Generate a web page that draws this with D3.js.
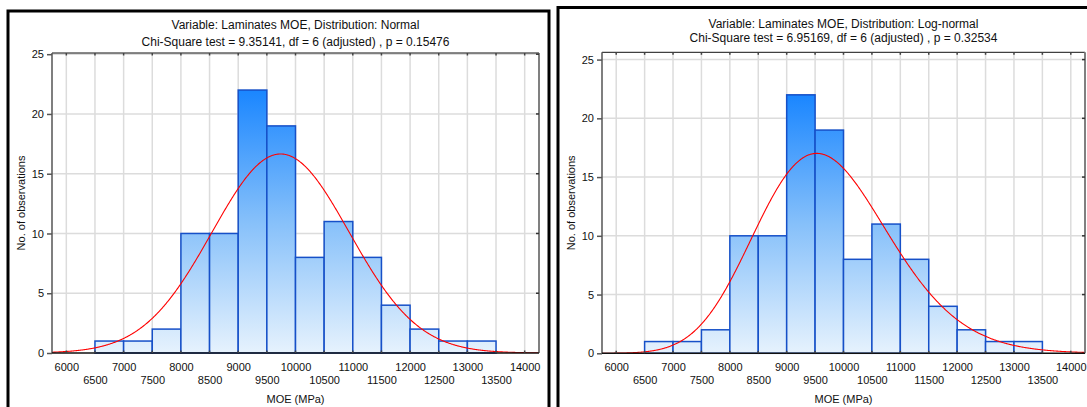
<!DOCTYPE html>
<html>
<head>
<meta charset="utf-8">
<script src="https://cdn.jsdelivr.net/npm/d3@7"></script>
<style>
  html, body { margin: 0; padding: 0; background: #fff; }
  svg { display: block; }
  text { font-family: "Liberation Sans", Arial, sans-serif; fill: #111; }
</style>
</head>
<body>
<svg id="chart" width="1087" height="407"></svg>
<script>
// Histogram of laminate MOE (MPa), 500 MPa class width
const binStarts = [6500, 7000, 7500, 8000, 8500, 9000, 9500, 10000, 10500, 11000, 11500, 12000, 12500, 13000];
const counts    = [1, 1, 2, 10, 10, 22, 19, 8, 11, 8, 4, 2, 1, 1];
const binWidth = 500;

// Axis ticks
const xTicksUpper = [6000, 7000, 8000, 9000, 10000, 11000, 12000, 13000, 14000];
const xTicksLower = [6500, 7500, 8500, 9500, 10500, 11500, 12500, 13500];
const yTicks = [0, 5, 10, 15, 20, 25];

// Fitted distributions
const normalFit = [9740, 1198];        // mean, standard deviation
const lognormalFit = [9.1771, 0.1221]; // mu, sigma of ln(MOE)

const titlesNormal = ["Variable: Laminates MOE, Distribution: Normal",
                      "Chi-Square test = 9.35141, df = 6 (adjusted) , p = 0.15476"];
const titlesLognormal = ["Variable: Laminates MOE, Distribution: Log-normal",
                         "Chi-Square test = 6.95169, df = 6 (adjusted) , p = 0.32534"];

const xLabel = "MOE (MPa)";
const yLabel = "No. of observations";

const N = d3.sum(counts);
const svg = d3.select("#chart");

function normalPdf(x, m, s) {
  const z = (x - m) / s;
  return Math.exp(-0.5 * z * z) / (s * Math.sqrt(2 * Math.PI));
}
function lognormalPdf(x, mu, s) {
  const z = (Math.log(x) - mu) / s;
  return Math.exp(-0.5 * z * z) / (x * s * Math.sqrt(2 * Math.PI));
}

function drawPanel(cfg) {
  const g = svg.append("g");
  const x = d3.scaleLinear().domain([5750, 14250]).range([cfg.left, cfg.right]);
  const y = d3.scaleLinear().domain([0, cfg.yMax]).range([cfg.bottom, cfg.top]);

  // outer frame
  g.append("path")
    .attr("d", cfg.framePath)
    .attr("fill", "none").attr("stroke", "#000").attr("stroke-width", 3);

  const clipId = "clip" + cfg.id;
  g.append("clipPath").attr("id", clipId)
    .append("rect").attr("x", cfg.left).attr("y", cfg.top)
    .attr("width", cfg.right - cfg.left).attr("height", cfg.bottom - cfg.top);

  // grid
  const xGrid = d3.range(6000, 14001, 500);
  g.append("g").selectAll("line").data(xGrid).join("line")
    .attr("x1", d => x(d)).attr("x2", d => x(d))
    .attr("y1", cfg.top).attr("y2", cfg.bottom)
    .attr("stroke", "#dcdcdc").attr("stroke-width", 1.5);
  g.append("g").selectAll("line").data(yTicks.slice(1)).join("line")
    .attr("x1", cfg.left).attr("x2", cfg.right)
    .attr("y1", d => y(d)).attr("y2", d => y(d))
    .attr("stroke", "#dcdcdc").attr("stroke-width", 1.5);

  // bar fill gradient follows the plot height
  const gradId = "grad" + cfg.id;
  const grad = g.append("linearGradient").attr("id", gradId)
    .attr("gradientUnits", "userSpaceOnUse")
    .attr("x1", 0).attr("x2", 0).attr("y1", y(22)).attr("y2", y(0));
  grad.append("stop").attr("offset", "0%").attr("stop-color", "#1a86ff");
  grad.append("stop").attr("offset", "50%").attr("stop-color", "#86c0fa");
  grad.append("stop").attr("offset", "100%").attr("stop-color", "#e6f2fd");

  g.append("g").selectAll("rect").data(binStarts).join("rect")
    .attr("x", d => x(d))
    .attr("y", (d, i) => y(counts[i]))
    .attr("width", d => x(d + binWidth) - x(d))
    .attr("height", (d, i) => y(0) - y(counts[i]))
    .attr("fill", `url(#${gradId})`)
    .attr("stroke", "#1650c8").attr("stroke-width", 1.5);

  // fitted curve, expected count per class
  const pts = d3.range(5750, 14251, 10).map(v => [v, N * binWidth * cfg.pdf(v)]);
  g.append("path")
    .attr("clip-path", `url(#${clipId})`)
    .attr("d", d3.line().x(d => x(d[0])).y(d => y(d[1]))(pts))
    .attr("fill", "none").attr("stroke", "#ff0000").attr("stroke-width", 1.1);

  // plot frame
  g.append("line").attr("x1", cfg.left).attr("x2", cfg.right)
    .attr("y1", cfg.top).attr("y2", cfg.top).attr("stroke", "#111").attr("stroke-width", 1);
  g.append("line").attr("x1", cfg.right).attr("x2", cfg.right)
    .attr("y1", cfg.top).attr("y2", cfg.bottom).attr("stroke", "#808080").attr("stroke-width", 2);
  g.append("line").attr("x1", cfg.left).attr("x2", cfg.left)
    .attr("y1", cfg.top).attr("y2", cfg.bottom).attr("stroke", "#555").attr("stroke-width", 1.5);
  g.append("line").attr("x1", cfg.left).attr("x2", cfg.right)
    .attr("y1", cfg.bottom).attr("y2", cfg.bottom).attr("stroke", "#111").attr("stroke-width", 1.5);

  // small ticks on frame
  g.append("g").selectAll("line").data(xGrid).join("line")
    .attr("x1", d => x(d)).attr("x2", d => x(d))
    .attr("y1", cfg.top).attr("y2", cfg.top + 2.5)
    .attr("stroke", "#444").attr("stroke-width", 1.5);
  g.append("g").selectAll("line").data(xGrid).join("line")
    .attr("x1", d => x(d)).attr("x2", d => x(d))
    .attr("y1", cfg.bottom).attr("y2", cfg.bottom - 2.5)
    .attr("stroke", "#444").attr("stroke-width", 1.5);
  g.append("g").selectAll("line").data(yTicks.slice(1)).join("line")
    .attr("x1", cfg.right).attr("x2", cfg.right - 3)
    .attr("y1", d => y(d)).attr("y2", d => y(d))
    .attr("stroke", "#333").attr("stroke-width", 1.5);

  // y axis
  const yAxis = d3.axisLeft(y).tickValues(yTicks).tickSize(5).tickPadding(3);
  const ya = g.append("g").attr("transform", `translate(${cfg.left},0)`).call(yAxis);
  ya.select(".domain").remove();
  ya.selectAll(".tick line").attr("stroke", "#555").attr("stroke-width", 1.5);
  ya.selectAll(".tick text").style("font-size", "11px").attr("fill", "#111")
    .style("font-family", "'Liberation Sans', Arial, sans-serif");

  // x axis, two staggered label rows
  const xa1 = g.append("g").attr("transform", `translate(0,${cfg.bottom})`)
    .call(d3.axisBottom(x).tickValues(xTicksUpper).tickSize(0).tickPadding(10).tickFormat(d3.format("d")));
  const xa2 = g.append("g").attr("transform", `translate(0,${cfg.bottom})`)
    .call(d3.axisBottom(x).tickValues(xTicksLower).tickSize(0).tickPadding(23).tickFormat(d3.format("d")));
  [xa1, xa2].forEach(a => {
    a.select(".domain").remove();
    a.selectAll(".tick text").style("font-size", "11px").attr("fill", "#111")
      .style("font-family", "'Liberation Sans', Arial, sans-serif");
  });

  const cx = (cfg.left + cfg.right) / 2;
  g.append("text").attr("x", cx).attr("y", cfg.titleY[0]).attr("text-anchor", "middle")
    .style("font-size", "12px").text(cfg.titles[0]);
  g.append("text").attr("x", cx).attr("y", cfg.titleY[1]).attr("text-anchor", "middle")
    .style("font-size", "12px").text(cfg.titles[1]);

  g.append("text").attr("x", cx).attr("y", 403).attr("text-anchor", "middle")
    .style("font-size", "11px").text(xLabel);

  g.append("text")
    .attr("transform", `translate(${cfg.yLabelX},${(cfg.top + cfg.bottom) / 2}) rotate(-90)`)
    .attr("text-anchor", "middle").style("font-size", "11px").text(yLabel);
}

drawPanel({
  id: "n", left: 52, right: 539, top: 53, bottom: 353, yMax: 25.1,
  framePath: "M8,410 L8,11 L549,11 L549,410",
  titles: titlesNormal, titleY: [29, 46], yLabelX: 25,
  pdf: v => normalPdf(v, normalFit[0], normalFit[1])
});

drawPanel({
  id: "ln", left: 602, right: 1085, top: 52.3, bottom: 353.3, yMax: 25.62,
  framePath: "M558,410 L558,7.5 L1090,7.5",
  titles: titlesLognormal, titleY: [28, 42], yLabelX: 575,
  pdf: v => lognormalPdf(v, lognormalFit[0], lognormalFit[1])
});
</script>
</body>
</html>
